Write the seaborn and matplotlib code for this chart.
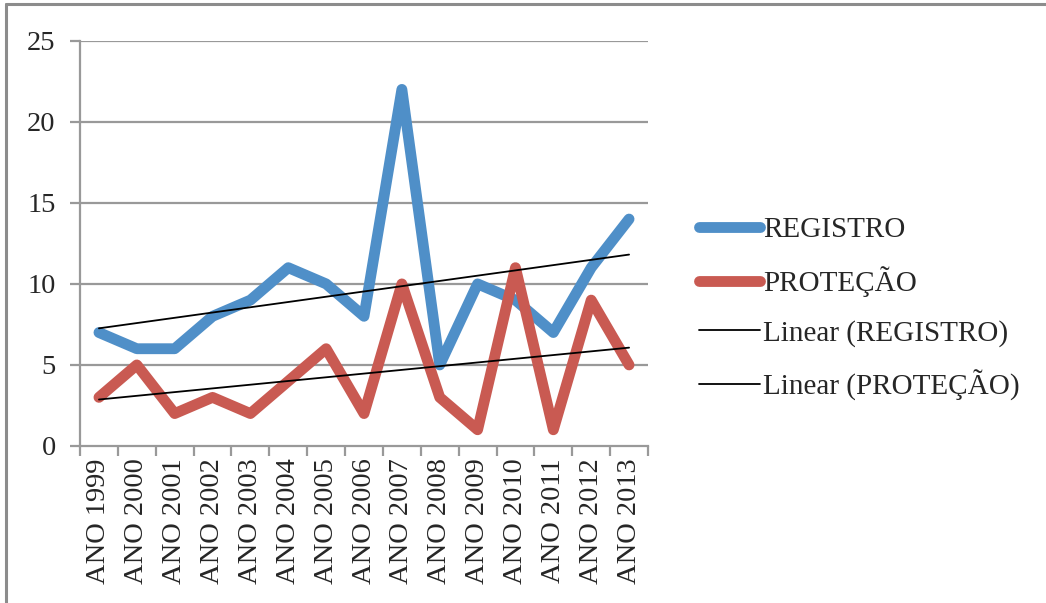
import numpy as np
import pandas as pd
import matplotlib
matplotlib.use("Agg")
import matplotlib.pyplot as plt
from matplotlib.lines import Line2D
import seaborn as sns

# Annual counts per category
years = ["ANO 1999", "ANO 2000", "ANO 2001", "ANO 2002", "ANO 2003",
         "ANO 2004", "ANO 2005", "ANO 2006", "ANO 2007", "ANO 2008",
         "ANO 2009", "ANO 2010", "ANO 2011", "ANO 2012", "ANO 2013"]
registro = [7, 6, 6, 8, 9, 11, 10, 8, 22, 5, 10, 9, 7, 11, 14]
protecao = [3, 5, 2, 3, 2, 4, 6, 2, 10, 3, 1, 11, 1, 9, 5]
y_ticks = [0, 5, 10, 15, 20, 25]

sns.set_theme(style="white")
plt.rcParams["font.family"] = ["Liberation Serif", "DejaVu Serif"]

df = pd.DataFrame({"ano": years, "idx": np.arange(len(years)),
                   "REGISTRO": registro, "PROTEÇÃO": protecao})

fig = plt.figure(figsize=(10.46, 6.03), dpi=100)
ax = fig.add_axes([0.0765, 0.2604, 0.5430, 0.6720])

blue = "#4F8FC8"
red = "#C95A52"
grid_c = "#999999"

for v in y_ticks[1:]:
    ax.axhline(v, color=grid_c, lw=1.6, zorder=0)

sns.lineplot(data=df, x="idx", y="REGISTRO", ax=ax, color=blue, lw=7.8,
             solid_capstyle="round", solid_joinstyle="round", zorder=3)
sns.lineplot(data=df, x="idx", y="PROTEÇÃO", ax=ax, color=red, lw=7.8,
             solid_capstyle="round", solid_joinstyle="round", zorder=3)

# Least-squares trend lines
x = df["idx"].to_numpy()
for col in ["REGISTRO", "PROTEÇÃO"]:
    m, b = np.polyfit(x, df[col].to_numpy(), 1)
    ax.plot(x, m * x + b, color="black", lw=1.3, zorder=4)

ax.set_xlim(-0.5, len(years) - 0.5)
ax.set_ylim(0, 25)
ax.set_yticks(y_ticks)
ax.set_yticklabels([str(v) for v in y_ticks], fontsize=20.5)
ax.set_xticks(np.arange(len(years)))
ax.set_xticklabels(years, rotation=90, fontsize=20.5)
ax.set_xticks(np.arange(len(years) + 1) - 0.5, minor=True)
ax.tick_params(axis="x", which="major", length=0, pad=9)
ax.tick_params(axis="x", which="minor", length=7, width=1.6, color=grid_c,
               direction="out", bottom=True)
ax.tick_params(axis="y", length=7, width=1.6, color=grid_c, direction="out",
               left=True, pad=10.5)
ax.set_xlabel("")
ax.set_ylabel("")
for s in ["top", "right"]:
    ax.spines[s].set_visible(False)
for s in ["left", "bottom"]:
    ax.spines[s].set_color(grid_c)
    ax.spines[s].set_linewidth(1.6)

handles = [
    Line2D([], [], color=blue, lw=7.8, solid_capstyle="round"),
    Line2D([], [], color=red, lw=7.8, solid_capstyle="round"),
    Line2D([], [], color="black", lw=1.3),
    Line2D([], [], color="black", lw=1.3),
]
labels = ["REGISTRO", "PROTEÇÃO", "Linear (REGISTRO)", "Linear (PROTEÇÃO)"]
fig.legend(handles, labels, loc="upper left", bbox_to_anchor=(0.668, 0.640),
           frameon=False, fontsize=21, handlelength=2.1, handletextpad=0.1,
           labelspacing=0.78, borderaxespad=0, borderpad=0)

# Outer chart frame (top and left edges)
fig.add_artist(Line2D([0.0057, 1.0], [0.9934, 0.9934], color="#8c8c8c",
                      lw=2.2, transform=fig.transFigure))
fig.add_artist(Line2D([0.0057, 0.0057], [0.0, 0.9934], color="#8c8c8c",
                      lw=2.2, transform=fig.transFigure))

fig.savefig("out.png", dpi=100, facecolor="white")
